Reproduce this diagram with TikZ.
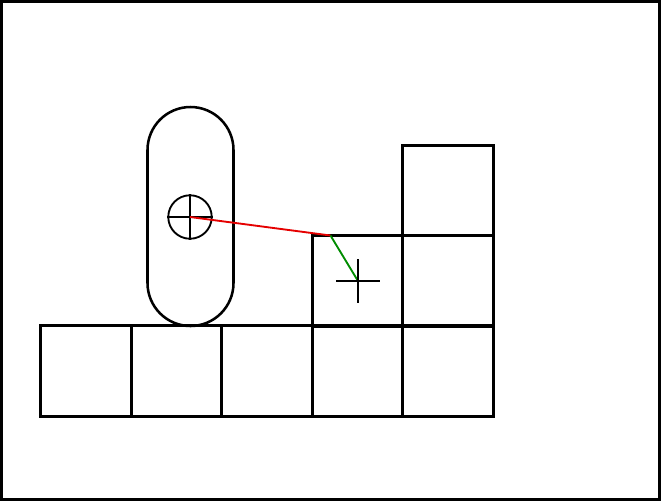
\documentclass[tikz,border=0pt]{standalone}
\usetikzlibrary{calc}
\begin{document}
\begin{tikzpicture}[x=0.75pt,y=-0.75pt,
  ln/.style={line width=1.9pt,black},
  cell/.style={draw,line width=1.9pt,minimum width=67.9pt,minimum height=67.9pt,inner sep=0pt,outer sep=0pt}]
\useasboundingbox (0,0) rectangle (661,501);
\draw[ln] (1.5,1.5) rectangle (659.5,499.5);
% bottom row
\node[cell] (b1) at (86,371) {};
\node[cell] (b2) at (176.5,371) {};
\node[cell] (b3) at (267,371) {};
\node[cell] (b4) at (357.5,371) {};
\node[cell] (b5) at (448,371) {};
% upper cells
\node[cell] (m4) at (357.5,281) {};
\node[cell] (m5) at (448,281) {};
\node[cell] (t5) at (448,190.5) {};
% capsule
\draw[ln] (147.5,150) arc[start angle=180,end angle=360,radius=43] -- (233.5,283) arc[start angle=0,end angle=180,radius=43] -- cycle;
% circle with cross
\node[draw,circle,line width=1.4pt,minimum size=32.6pt,inner sep=0pt] (c) at (190,217) {};
\draw[line width=1.4pt] (c.west) -- (c.east) (c.north) -- (c.south);
% lines
\coordinate (k) at (330.5,235.5);
\coordinate (p) at (358,281);
\draw[red!90!black,line width=1.4pt] (c.center) -- (k);
\draw[green!55!black,line width=1.4pt] (k) -- (p);
\draw[line width=1.4pt] ($(p)+(-22,0)$) -- ($(p)+(22,0)$);
\draw[line width=1.4pt] ($(p)+(0,-22)$) -- ($(p)+(0,22)$);
\end{tikzpicture}
\end{document}
